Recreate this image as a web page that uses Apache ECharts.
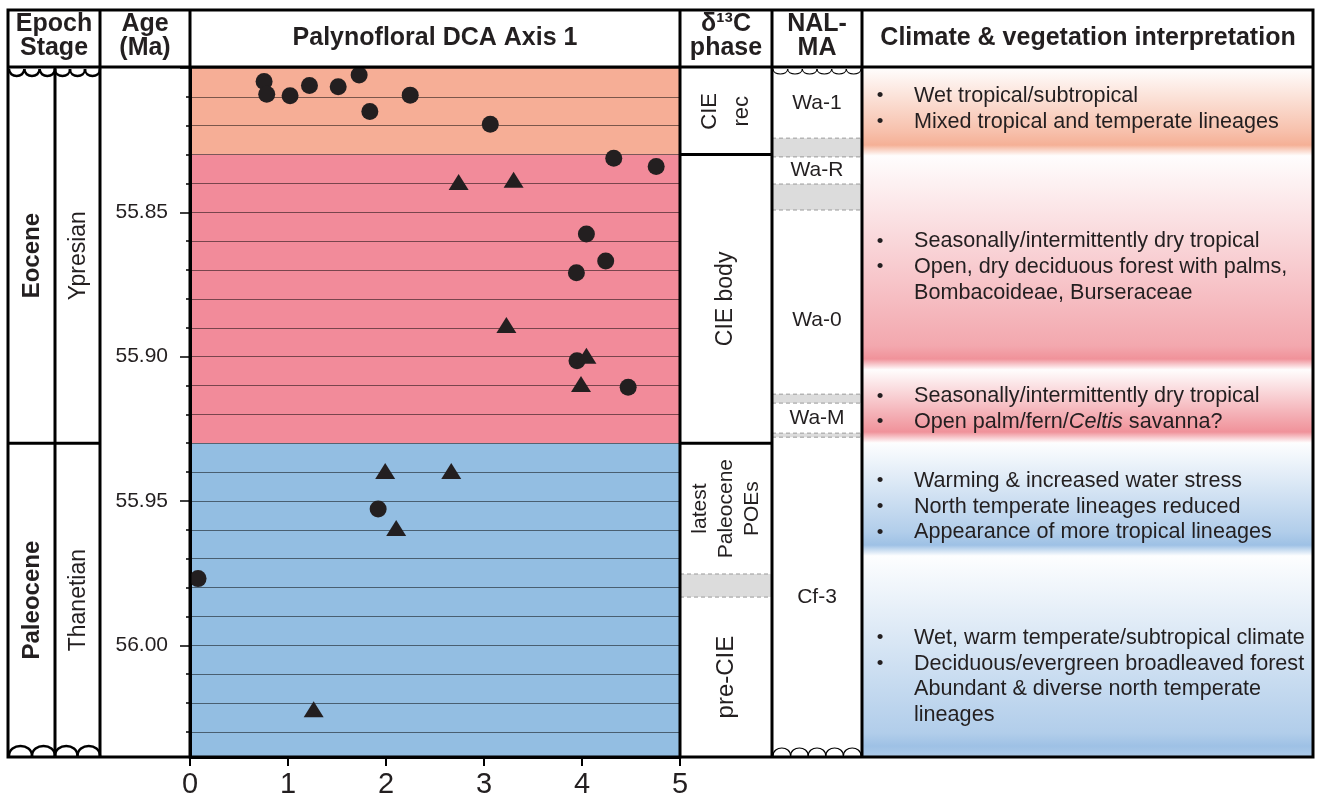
<!DOCTYPE html>
<html><head><meta charset="utf-8">
<script src="https://cdn.jsdelivr.net/npm/echarts@6/dist/echarts.min.js"></script>
<style>html,body{margin:0;padding:0;background:#fff}#c{width:1317px;height:796px}</style>
</head><body><div id="c"></div>
<script>
// ---------------- DATA ----------------
const AGE_MIN = 55.80, AGE_MAX = 56.0387;
const dcaTicks = [0, 1, 2, 3, 4, 5];
const ageTickLabels = ['55.85', '55.90', '55.95', '56.00'];

// Palynofloral DCA axis 1 scores (circles and triangles)
const circleDCA = [0.756, 0.783, 1.021, 1.219, 1.512, 1.726, 1.835, 2.247, 3.064, 4.324, 4.757, 4.045, 4.242, 3.943, 3.949, 4.471, 1.920, 0.082];
const circleAge = [55.8047, 55.8091, 55.8096, 55.8061, 55.8065, 55.8024, 55.8151, 55.8094, 55.8195, 55.8313, 55.8341, 55.8575, 55.8669, 55.8709, 55.9014, 55.9106, 55.9528, 55.9769];
const triangleDCA = [2.741, 3.302, 3.228, 4.045, 3.990, 1.992, 2.666, 2.104, 1.262];
const triangleAge = [55.8395, 55.8387, 55.8890, 55.8997, 55.9095, 55.9396, 55.9396, 55.9594, 56.0222];

// Background zones of the DCA panel
const zoneBounds = [55.80, 55.83, 55.93, AGE_MAX];
const zoneNames = ['CIE recovery', 'CIE body', 'pre-CIE'];

// Epoch / stage
const epochNames = ['Eocene', 'Paleocene'];
const stageNames = ['Ypresian', 'Thanetian'];
const epochBounds = [55.80, 55.93, AGE_MAX];

// δ13C phase
const phaseNames = ['CIE\nrec', 'CIE body', 'latest\nPaleocene\nPOEs', 'pre-CIE'];
const phaseStart = [55.80, 55.83, 55.93, 55.9833];
const phaseEnd = [55.83, 55.93, 55.9753, AGE_MAX];
const phaseGapStart = [55.9753];
const phaseGapEnd = [55.9833];

// NALMA
const nalmaNames = ['Wa-1', 'Wa-R', 'Wa-0', 'Wa-M', 'Cf-3'];
const nalmaLabelAge = [55.8121, 55.8355, 55.8873, 55.9213, 55.9833];
const nalmaGapStart = [55.8243, 55.8402, 55.9130, 55.9265];
const nalmaGapEnd = [55.8308, 55.8492, 55.9161, 55.9279];

// Climate & vegetation interpretation
const climateStart = [55.80, 55.8305, 55.9046, 55.9299, 55.9691];
const climateEnd = [55.8305, 55.9046, 55.9299, 55.9691, AGE_MAX];
const climateKind = ['orange', 'pink', 'pink', 'blue', 'blue'];
const climateTextAge = [55.8142, 55.8690, 55.9182, 55.9520, 56.0108];
const climateLines = [
  [[1, 'Wet tropical/subtropical'], [1, 'Mixed tropical and temperate lineages']],
  [[1, 'Seasonally/intermittently dry tropical'], [1, 'Open, dry deciduous forest with palms,'], [0, 'Bombacoideae, Burseraceae']],
  [[1, 'Seasonally/intermittently dry tropical'], [1, 'Open palm/fern/{i|Celtis} savanna?']],
  [[1, 'Warming & increased water stress'], [1, 'North temperate lineages reduced'], [1, 'Appearance of more tropical lineages']],
  [[1, 'Wet, warm temperate/subtropical climate'], [1, 'Deciduous/evergreen broadleaved forest'], [0, 'Abundant & diverse north temperate'], [0, 'lineages']]
];

const headerLines = [['Epoch', 'Stage'], ['Age', '(Ma)'], ['Palynofloral DCA Axis 1'], ['δ¹³C', 'phase'], ['NAL-', 'MA'], ['Climate & vegetation interpretation']];

// ---------------- STYLE / LAYOUT ----------------
const FONT = '"Liberation Sans", Arial, Helvetica, sans-serif';
const INK = '#231F20';
const TOP = 68, BOTTOM = 39;
const zoneColors = ['#F6AE96', '#F28B9A', '#93BEE2'];
const climatePalette = { orange: [245, 176, 150], pink: [240, 146, 154], blue: [158, 193, 229] };
const phaseFont = [22, 23, 21, 24];
const phaseLH = [32, 26, 26, 26];
const CLIMATE_FS = 21.6;

function gridAt(left, width) { return { left: left, width: width, top: TOP, bottom: BOTTOM, containLabel: false, outerBoundsMode: 'none' }; }
const grids = [
  gridAt(190, 490), // 0 DCA
  gridAt(8, 47),    // 1 epoch
  gridAt(55, 45),   // 2 stage
  gridAt(680, 92),  // 3 phase
  gridAt(772, 90),  // 4 NALMA
  gridAt(862, 451)  // 5 climate
];

function yAx(gi, extra) { return Object.assign({ gridIndex: gi, type: 'value', inverse: true, min: AGE_MIN, max: AGE_MAX, show: false }, extra || {}); }
function xAx(gi, extra) { return Object.assign({ gridIndex: gi, type: 'value', min: 0, max: 1, show: false }, extra || {}); }
const yOf = (api, age) => api.coord([0, age])[1];

function isMajor(v) { return Math.abs(v * 20 - Math.round(v * 20)) < 1e-6; }

const xAxis = [
  xAx(0, { show: true, min: 0, max: 5, interval: 1, position: 'bottom', z: 3,
    axisLine: { show: true, onZero: false, lineStyle: { color: '#000', width: 3 } },
    axisTick: { show: true, inside: false, length: 9, lineStyle: { color: '#000', width: 2 } },
    axisLabel: { show: true, fontSize: 29, fontFamily: FONT, color: INK, margin: 13,
      formatter: v => dcaTicks.indexOf(v) >= 0 ? String(v) : '' },
    splitLine: { show: false } }),
  xAx(1), xAx(2), xAx(3), xAx(4), xAx(5)
];

const yAxis = [
  yAx(0, { show: true, position: 'left', interval: 0.01, z: 3,
    axisLine: { show: true, onZero: false, lineStyle: { color: '#000', width: 3 } },
    axisTick: { show: true, length: 4, lineStyle: { color: '#000', width: 1.5 } },
    axisLabel: { show: false },
    splitLine: { show: true, lineStyle: { color: 'rgba(0,0,0,0.5)', width: 1 } } }),
  yAx(0, { show: true, position: 'left', offset: 0, interval: 0.05, z: 3,
    axisLine: { show: false, onZero: false },
    axisTick: { show: true, length: 10, lineStyle: { color: '#000', width: 1.5 } },
    axisLabel: { show: true, fontSize: 21, fontFamily: FONT, color: INK, margin: 22,
      formatter: v => { if (!isMajor(v)) return ''; const s = v.toFixed(2); return ageTickLabels.indexOf(s) >= 0 ? s : ''; } },
    splitLine: { show: false } }),
  yAx(1), yAx(2), yAx(3), yAx(4), yAx(5)
];

// ---------- series ----------
const series = [];

series.push({
  type: 'custom', xAxisIndex: 0, yAxisIndex: 0, z: 1, silent: true,
  data: zoneNames.map((n, i) => [0, zoneBounds[i], zoneBounds[i + 1]]),
  encode: { x: 0, y: [1, 2] },
  renderItem: (params, api) => {
    const cs = params.coordSys, i = params.dataIndex;
    const y0 = yOf(api, zoneBounds[i]), y1 = yOf(api, zoneBounds[i + 1]);
    return { type: 'rect', shape: { x: cs.x, y: y0, width: cs.width, height: y1 - y0 }, style: { fill: zoneColors[i] } };
  }
});

series.push({
  type: 'scatter', name: 'circles', xAxisIndex: 0, yAxisIndex: 0, z: 5,
  symbol: 'circle', symbolSize: 17, itemStyle: { color: INK, opacity: 1 },
  data: circleDCA.map((x, i) => [x, circleAge[i]])
});
series.push({
  type: 'scatter', name: 'triangles', xAxisIndex: 0, yAxisIndex: 0, z: 5,
  symbol: 'triangle', symbolSize: [20, 16], itemStyle: { color: INK, opacity: 1 },
  data: triangleDCA.map((x, i) => [x, triangleAge[i]])
});

function colLabelSeries(gi, names, bold, size) {
  return {
    type: 'custom', xAxisIndex: gi, yAxisIndex: gi + 1, z: 4, silent: true,
    data: names.map((n, i) => [0, epochBounds[i], epochBounds[i + 1]]),
    encode: { x: 0, y: [1, 2] },
    renderItem: (params, api) => {
      const cs = params.coordSys, i = params.dataIndex;
      const y0 = yOf(api, epochBounds[i]), y1 = yOf(api, epochBounds[i + 1]);
      const ch = [{ type: 'text', x: cs.x + cs.width / 2 + 1, y: (y0 + y1) / 2, rotation: Math.PI / 2,
        style: { text: names[i], fontSize: size, fontFamily: FONT, fontWeight: bold ? 'bold' : 'normal', fill: INK, align: 'center', verticalAlign: 'middle' } }];
      if (i > 0) ch.push({ type: 'line', shape: { x1: cs.x, y1: y0, x2: cs.x + cs.width, y2: y0 }, style: { stroke: '#000', lineWidth: 3 } });
      return { type: 'group', children: ch };
    }
  };
}
series.push(colLabelSeries(1, epochNames, true, 24));
series.push(colLabelSeries(2, stageNames, false, 23));

series.push({
  type: 'custom', xAxisIndex: 3, yAxisIndex: 4, z: 4, silent: true,
  data: phaseNames.map((n, i) => [0, phaseStart[i], phaseEnd[i]]),
  encode: { x: 0, y: [1, 2] },
  renderItem: (params, api) => {
    const cs = params.coordSys, i = params.dataIndex;
    const y0 = yOf(api, phaseStart[i]), y1 = yOf(api, phaseEnd[i]);
    const ch = [{ type: 'text', x: cs.x + cs.width / 2, y: (y0 + y1) / 2, rotation: Math.PI / 2,
      style: { text: phaseNames[i], fontSize: phaseFont[i], lineHeight: phaseLH[i], fontFamily: FONT, fill: INK, align: 'center', verticalAlign: 'middle' } }];
    if (i > 0 && Math.abs(phaseStart[i] - phaseEnd[i - 1]) < 1e-9)
      ch.push({ type: 'line', shape: { x1: cs.x, y1: y0, x2: cs.x + cs.width, y2: y0 }, style: { stroke: '#000', lineWidth: 3 } });
    return { type: 'group', children: ch };
  }
});

function gapSeries(gi, starts, ends) {
  return {
    type: 'custom', xAxisIndex: gi, yAxisIndex: gi + 1, z: 3, silent: true,
    data: starts.map((s, i) => [0, s, ends[i]]),
    encode: { x: 0, y: [1, 2] },
    renderItem: (params, api) => {
      const cs = params.coordSys, i = params.dataIndex;
      const y0 = yOf(api, starts[i]), y1 = yOf(api, ends[i]);
      const ls = { stroke: '#9a9a9a', lineWidth: 1, lineDash: [4, 3] };
      return { type: 'group', children: [
        { type: 'rect', shape: { x: cs.x, y: y0, width: cs.width, height: y1 - y0 }, style: { fill: '#DCDCDC' } },
        { type: 'line', shape: { x1: cs.x, y1: y0, x2: cs.x + cs.width, y2: y0 }, style: ls },
        { type: 'line', shape: { x1: cs.x, y1: y1, x2: cs.x + cs.width, y2: y1 }, style: ls }
      ] };
    }
  };
}
series.push(gapSeries(3, phaseGapStart, phaseGapEnd));
series.push(gapSeries(4, nalmaGapStart, nalmaGapEnd));

series.push({
  type: 'custom', xAxisIndex: 4, yAxisIndex: 5, z: 4, silent: true,
  data: nalmaNames.map((n, i) => [0.5, nalmaLabelAge[i]]),
  encode: { x: 0, y: 1 },
  renderItem: (params, api) => {
    const cs = params.coordSys, i = params.dataIndex;
    return { type: 'text', x: cs.x + cs.width / 2, y: yOf(api, nalmaLabelAge[i]),
      style: { text: nalmaNames[i], fontSize: 21, fontFamily: FONT, fill: INK, align: 'center', verticalAlign: 'middle' } };
  }
});

series.push({
  type: 'custom', xAxisIndex: 5, yAxisIndex: 6, z: 1, silent: true,
  data: climateStart.map((s, i) => [0, s, climateEnd[i]]),
  encode: { x: 0, y: [1, 2] },
  renderItem: (params, api) => {
    const cs = params.coordSys, i = params.dataIndex;
    const y0 = yOf(api, climateStart[i]), y1 = yOf(api, climateEnd[i]);
    const h = y1 - y0;
    const [r, gg, b] = climatePalette[climateKind[i]];
    const c = a => `rgba(${r},${gg},${b},${a})`;
    const last = i === climateStart.length - 1;
    return { type: 'rect', shape: { x: cs.x, y: y0, width: cs.width, height: h },
      style: { fill: { type: 'linear', x: 0, y: 0, x2: 0, y2: 1, colorStops: [
        { offset: 0, color: c(0.02) },
        { offset: Math.max(0.05, 1 - 24 / h), color: c(0.8) },
        { offset: 1 - 11 / h, color: c(1) },
        { offset: 1, color: last ? c(0.85) : c(0.0) }
      ] } } };
  }
});

series.push({
  type: 'custom', xAxisIndex: 5, yAxisIndex: 6, z: 4, silent: true,
  data: climateTextAge.map(a => [0.5, a]),
  encode: { x: 0, y: 1 },
  renderItem: (params, api) => {
    const cs = params.coordSys, i = params.dataIndex;
    const yc = yOf(api, climateTextAge[i]);
    const lines = climateLines[i];
    const LH = 25.8;
    const ch = [];
    lines.forEach((ln, k) => {
      const y = yc + (k - (lines.length - 1) / 2) * LH;
      if (ln[0]) ch.push({ type: 'text', x: cs.x + 18, y: y, style: { text: '•', fontSize: 19, fontFamily: FONT, fill: INK, align: 'center', verticalAlign: 'middle' } });
      ch.push({ type: 'text', x: cs.x + 52, y: y, style: { text: ln[1], fontSize: CLIMATE_FS, fontFamily: FONT, fill: INK, align: 'left', verticalAlign: 'middle',
        rich: { i: { fontStyle: 'italic', fontSize: CLIMATE_FS, fontFamily: FONT, fill: INK } } } });
    });
    return { type: 'group', children: ch };
  }
});

// ---------- graphic: table frame, header, unconformities ----------
const L = 8, R = 1313, T = 10, HB = 67, B = 757;
const g = [];
const stroke3 = { stroke: '#000', lineWidth: 3 };
g.push({ type: 'rect', z: 100, shape: { x: L, y: T, width: R - L, height: B - T }, style: { fill: 'transparent', stroke: '#000', lineWidth: 3 } });
g.push({ type: 'line', z: 100, shape: { x1: L, y1: HB, x2: R, y2: HB }, style: stroke3 });
[100, 190, 680, 772, 862].forEach(x => g.push({ type: 'line', z: 100, shape: { x1: x, y1: T, x2: x, y2: B }, style: stroke3 }));
g.push({ type: 'line', z: 100, shape: { x1: 55, y1: HB, x2: 55, y2: B }, style: stroke3 });

const headerCenters = [54, 145, 435, 726, 817, 1088];
headerLines.forEach((lines, k) => {
  const ys = lines.length === 1 ? [38] : [24, 48];
  lines.forEach((t, j) => g.push({ type: 'text', z: 100, x: headerCenters[k], y: ys[j],
    style: { text: t, fontSize: 25, fontWeight: 'bold', fontFamily: FONT, fill: INK, align: 'center', verticalAlign: 'middle' } }));
});

function wavy(x0, x1, y, n, d, lw) {
  const w = (x1 - x0) / n;
  for (let i = 0; i < n; i++) {
    const a = x0 + i * w;
    g.push({ type: 'bezierCurve', z: 101, shape: { x1: a, y1: y, cpx1: a, cpy1: y + d * 1.33, cpx2: a + w, cpy2: y + d * 1.33, x2: a + w, y2: y },
      style: { fill: 'transparent', stroke: '#000', lineWidth: lw } });
  }
}
wavy(9, 55, 69, 3, 7, 2.5);
wavy(55, 100, 69, 3, 7, 2.5);
wavy(9, 55, 756, 2, -10, 2.5);
wavy(55, 100, 756, 2, -10, 2.5);
wavy(773, 861, 69, 6, 5, 1.2);
wavy(773, 861, 756, 5, -8, 1.2);

const chart = echarts.init(document.getElementById('c'));
chart.setOption({
  animation: false,
  backgroundColor: '#fff',
  grid: grids,
  xAxis: xAxis,
  yAxis: yAxis,
  series: series,
  graphic: { elements: g }
});
</script></body></html>
